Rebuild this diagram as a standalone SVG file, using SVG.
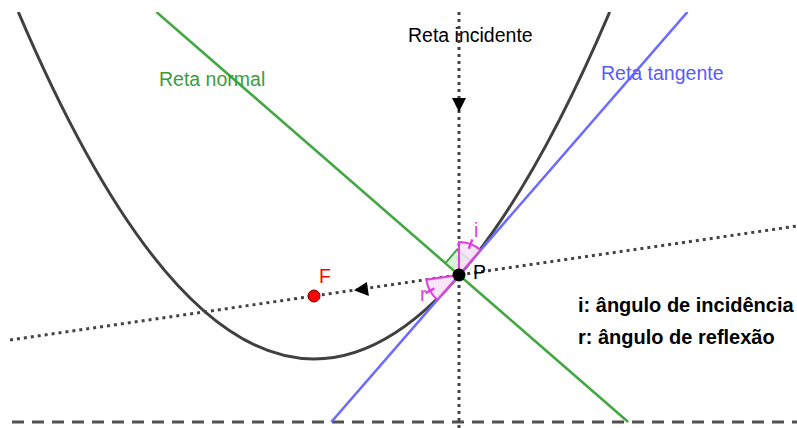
<svg xmlns="http://www.w3.org/2000/svg" width="797" height="428" viewBox="0 0 797 428">
<style>
.lbl{font-family:"Liberation Sans",Arial,sans-serif;font-size:19.5px}
.leg{font-family:"Liberation Sans",Arial,sans-serif;font-size:20px;font-weight:bold;fill:#000}
.dot{fill:none;stroke:#444;stroke-width:3;stroke-dasharray:3 4}
.green{stroke:#43a843;stroke-width:2.6;fill:none}
.blue{stroke:#6b6bff;stroke-width:2.6;fill:none}
.ang{fill:#f7e2f7;fill-opacity:0.85;stroke:#e040e0;stroke-width:2}
</style>
<defs><clipPath id="c"><rect x="0" y="12" width="797" height="416"/></clipPath></defs>
<rect width="797" height="428" fill="#fff"/>
<g id="connectors" clip-path="url(#c)">
<line id="directrix" x1="12" y1="422" x2="797" y2="422" stroke="#505050" stroke-width="3" stroke-dasharray="12 8"/>
<path id="parabola" d="M18.3 12 Q314 706 609.7 12" fill="none" stroke="#404040" stroke-width="3"/>
<line id="normal" class="green" x1="156.4" y1="12" x2="628.2" y2="422"/>
<line id="tangent" class="blue" x1="331.3" y1="422" x2="687.5" y2="12"/>
<line id="incident" class="dot" x1="459" y1="12" x2="459" y2="428"/>
<line id="reflected" class="dot" x1="10" y1="340" x2="797" y2="226"/>
<polygon points="459,112 452,98 466,98" fill="#000"/>
<polygon points="354,290.2 368.9,295.9 366.9,282.1" fill="#000"/>
</g>
<g id="right-angle"><polygon points="459,275 445.4,263.2 457.2,249.4 470.8,261.4" fill="#d5ecd5" fill-opacity="0.8" stroke="#43a843" stroke-width="2"/></g>
<g id="angle-i">
<path class="ang" d="M459 275 L459 242 A33 33 0 0 1 480.6 250.1 Z"/>
<line x1="468.8" y1="248.8" x2="472.3" y2="239.4" stroke="#e040e0" stroke-width="2.5"/>
<text x="474" y="237" class="lbl" fill="#e040e0">i</text>
</g>
<g id="angle-r">
<path class="ang" d="M459 275 L426.3 279.7 A33 33 0 0 0 437.4 299.9 Z"/>
<line x1="434.4" y1="288.4" x2="425.6" y2="293.2" stroke="#e040e0" stroke-width="2.5"/>
<text x="420" y="301" class="lbl" fill="#e040e0">r</text>
</g>
<g id="P"><circle cx="459" cy="275" r="6.5" fill="#000"/><text x="473" y="279" class="lbl" fill="#000">P</text></g>
<g id="F"><circle cx="314" cy="296" r="6" fill="#f00" stroke="#600" stroke-width="1"/><text x="319" y="283" class="lbl" fill="#f00">F</text></g>
<g id="labels">
<text x="408" y="42" class="lbl" fill="#000">Reta incidente</text>
<text x="159" y="86" class="lbl" fill="#3a9d3a">Reta normal</text>
<text x="601" y="80" class="lbl" fill="#5a5aff">Reta tangente</text>
<text x="578" y="312" class="leg">i: ângulo de incidência</text>
<text x="578" y="344" class="leg">r: ângulo de reflexão</text>
</g>
</svg>
